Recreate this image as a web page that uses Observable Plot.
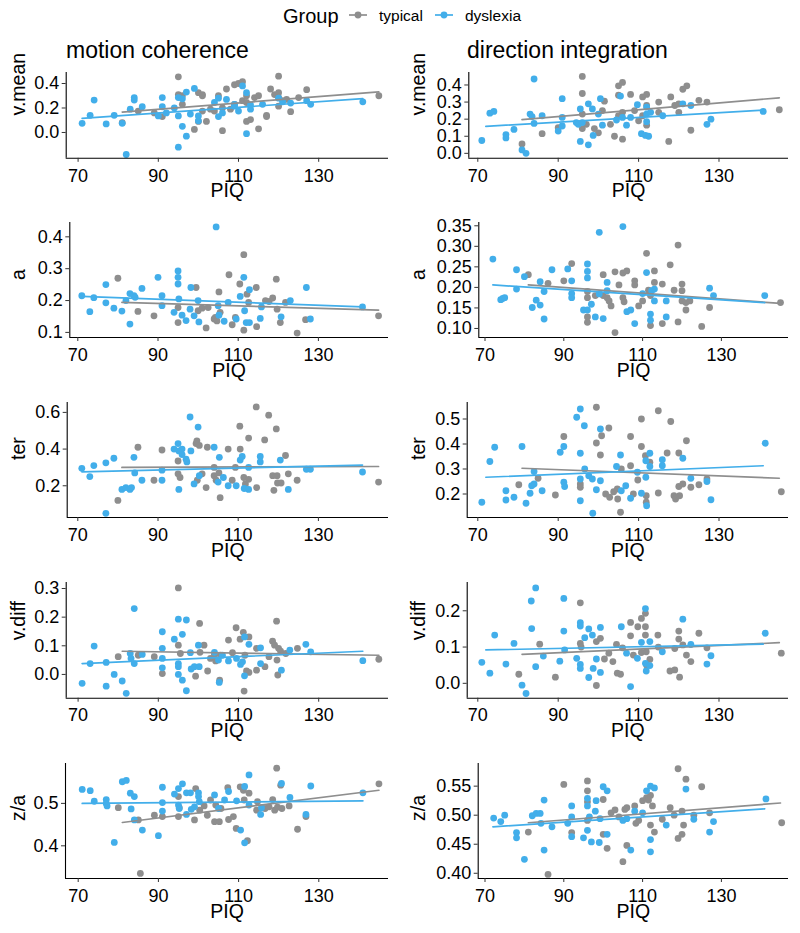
<!DOCTYPE html>
<html><head><meta charset="utf-8">
<script src="https://cdn.jsdelivr.net/npm/d3@7"></script>
<script src="https://cdn.jsdelivr.net/npm/@observablehq/plot@0.6"></script>
<style>
body{margin:0;background:#fff;}
#chart{position:relative;width:800px;height:933px;font-family:"Liberation Sans",Arial,sans-serif;}
#chart svg{position:absolute;}
</style></head><body><div id="chart"></div>
<script>
const groups = ["typical","dyslexia"];
const groupColors = ["#8e8e8e","#42aeea"];
const columnTitles = ["motion coherence","direction integration"];
const xTicks = [70,90,110,130];
const xLabel = "PIQ";
const yLabels = ["v.mean","a","ter","v.diff","z/a"];

// ---- motion coherence: v.mean ----
const mcVmeanTyp = [[81,0.08],[85,0.175],[89,0.16],[91,0.13],[95,0.455],[95,0.31],[96,0.23],[96,0.30],[99,0.025],[100,0.09],[100,0.325],[101,0.31],[101,0.30],[101,0.175],[102,0.09],[103,0.19],[104,0.175],[105,0.30],[106,0.015],[106,0.20],[107,0.355],[108,0.19],[109,0.23],[109,0.39],[110,0.40],[111,0.26],[111,0.415],[112,0.30],[112,0.09],[112,0.245],[113,0.105],[114,0.285],[115,0.30],[115,0.03],[117,0.14],[117,0.13],[118,0.355],[119,0.31],[120,0.46],[120,0.325],[120,0.215],[120,0.285],[121,0.26],[122,0.27],[123,0.17],[125,0.285],[127,0.35],[145,0.30]];
const mcVmeanDys = [[71,0.075],[73,0.14],[74,0.265],[77,0.07],[79,0.14],[81,0.075],[82,-0.18],[83,0.19],[84,0.285],[84,0.265],[86,0.21],[91,0.285],[91,0.21],[90,0.135],[92,0.16],[94,0.20],[95,-0.12],[95,0.135],[95,0.285],[96,0.275],[96,0.05],[97,0.33],[97,-0.03],[98,0.15],[99,0.36],[100,0.135],[100,0.095],[104,0.245],[105,0.28],[105,0.13],[106,0.16],[107,0.27],[109,0.23],[109,0.215],[110,0.175],[111,0.38],[112,-0.01],[112,0.325],[113,0.19],[113,0.225],[116,0.23],[120,0.28],[121,0.25],[123,0.24],[127,0.26],[128,0.23],[141,0.25]];
const mcVmeanFitTyp = [[81,0.167],[145,0.331]];
const mcVmeanFitDys = [[71,0.115],[141,0.277]];
const mcVmeanTicks = [0,0.2,0.4];

// ---- direction integration: v.mean ----
const diVmeanTyp = [[81,0.055],[86,0.115],[90,0.15],[96,0.45],[96,0.35],[96,0.145],[96,0.23],[97,0.17],[99,0.145],[100,0.12],[101,0.25],[101.5,0.305],[103,0.17],[104,0.10],[105,0.395],[105,0.34],[105,0.22],[106,0.415],[106,0.083],[106,0.24],[108,0.345],[109,0.25],[110,0.19],[111,0.33],[111,0.22],[112,0.345],[112,0.165],[112,0.28],[115,0.30],[115,0.24],[117.5,0.07],[118,0.33],[119,0.28],[120,0.24],[120,0.29],[121,0.375],[122,0.395],[123,0.135],[125,0.31],[127,0.30],[145,0.255]];
const diVmeanDys = [[71,0.075],[73,0.235],[74,0.245],[77,0.11],[77,0.09],[79,0.14],[81,0.02],[82,0.0],[83,0.23],[83.5,0.215],[84,0.435],[84,0.175],[86,0.22],[90,0.13],[91,0.32],[91,0.21],[91,0.16],[94.5,0.18],[95,0.17],[95.5,0.26],[95.5,0.07],[96,0.18],[97.5,0.29],[97.5,0.05],[98.5,0.26],[98.7,0.105],[100,0.23],[100.5,0.32],[101,0.165],[104.5,0.195],[105.5,0.335],[106,0.21],[107,0.165],[108,0.21],[109.7,0.285],[110.7,0.115],[111.7,0.105],[112,0.27],[112,0.23],[112,0.185],[112.5,0.10],[113,0.24],[116,0.22],[121,0.29],[123,0.28],[127,0.17],[128,0.2],[141,0.245]];
const diVmeanFitTyp = [[81,0.197],[145,0.325]];
const diVmeanFitDys = [[72,0.158],[141,0.253]];
const diVmeanTicks = [0,0.1,0.2,0.3,0.4];

// ---- motion coherence: a ----
const mcATyp = [[80,0.27],[85,0.166],[89,0.152],[95,0.178],[95,0.131],[99.5,0.241],[100,0.168],[101,0.176],[102,0.114],[102.5,0.178],[104,0.142],[104.3,0.147],[104.7,0.136],[105.2,0.227],[105.5,0.163],[107.7,0.281],[108.5,0.124],[109.3,0.147],[110.4,0.252],[111.4,0.344],[111.4,0.107],[112.2,0.22],[112.6,0.194],[114.5,0.241],[114.6,0.118],[116.8,0.20],[117.7,0.197],[118.6,0.208],[119.5,0.267],[119.7,0.173],[120.5,0.131],[121.8,0.194],[124.7,0.098],[126.8,0.14],[145,0.152]];
const mcADys = [[71,0.215],[73,0.165],[74,0.209],[77,0.25],[77,0.193],[79,0.176],[81,0.167],[82,0.20],[83,0.222],[83,0.126],[84,0.215],[84.3,0.21],[86,0.238],[90,0.273],[91,0.215],[91,0.184],[94,0.163],[95,0.293],[95,0.273],[95,0.252],[95.2,0.205],[96,0.154],[97,0.137],[98,0.173],[98.2,0.241],[99,0.152],[100,0.20],[100.2,0.133],[104.5,0.431],[105,0.184],[105.2,0.154],[106.5,0.135],[107.5,0.194],[109.5,0.142],[110.5,0.213],[111.4,0.273],[111.6,0.168],[112,0.131],[112.8,0.131],[112.8,0.234],[115.5,0.144],[115.8,0.18],[120.7,0.149],[123,0.20],[127,0.241],[128,0.142],[141,0.18]];
const mcAFitTyp = [[81,0.194],[145,0.17]];
const mcAFitDys = [[71,0.213],[141,0.18]];
const mcATicks = [0.1,0.2,0.3,0.4];

// ---- direction integration: a ----
const diATyp = [[81,0.231],[86,0.21],[90,0.216],[92,0.258],[96,0.19],[96,0.175],[96,0.128],[96,0.115],[98,0.18],[100,0.231],[100,0.18],[101,0.175],[101.5,0.167],[102,0.155],[103,0.238],[103,0.09],[104,0.206],[105,0.235],[106,0.24],[105,0.175],[105.3,0.165],[108,0.216],[108,0.206],[109,0.155],[110,0.167],[111,0.283],[111.5,0.193],[112,0.107],[112,0.18],[113,0.24],[113,0.212],[115,0.208],[115,0.112],[117,0.255],[118,0.193],[119,0.303],[119,0.116],[120,0.192],[120,0.208],[120,0.167],[121,0.145],[121,0.163],[122,0.167],[125,0.105],[127,0.151],[145,0.163]];
const diADys = [[72,0.269],[74,0.17],[74.5,0.173],[75,0.175],[78,0.243],[78,0.196],[80,0.226],[82,0.151],[83,0.169],[84,0.214],[84,0.157],[85,0.123],[85,0.19],[87,0.243],[91,0.245],[92,0.216],[92,0.185],[92,0.175],[95,0.145],[96,0.257],[96,0.239],[96,0.223],[96,0.145],[97,0.159],[98,0.128],[99,0.334],[99,0.184],[100,0.124],[101,0.212],[101,0.192],[105,0.348],[106,0.141],[107,0.145],[108,0.112],[110,0.185],[111,0.236],[112,0.135],[112,0.12],[112.3,0.192],[113,0.196],[113,0.167],[116,0.167],[116,0.128],[127,0.198],[128,0.18],[141,0.18]];
const diAFitTyp = [[81,0.206],[145,0.161]];
const diAFitDys = [[72,0.206],[141,0.163]];
const diATicks = [0.10,0.15,0.20,0.25,0.30,0.35];

// ---- motion coherence: ter ----
const mcTerTyp = [[80,0.12],[85,0.41],[89,0.23],[91,0.395],[95,0.335],[95,0.265],[95.5,0.245],[99.5,0.43],[99.7,0.445],[99.8,0.23],[100.3,0.42],[101,0.265],[102,0.19],[102.3,0.41],[104,0.30],[104,0.255],[104.5,0.23],[105.2,0.27],[105.5,0.135],[107.5,0.40],[108.5,0.23],[109.3,0.30],[110.4,0.525],[110.5,0.40],[111.4,0.245],[111.8,0.21],[112.6,0.46],[112.6,0.235],[114.5,0.63],[114.6,0.19],[116.6,0.45],[117.6,0.585],[118.6,0.255],[118.9,0.175],[119.5,0.51],[119.7,0.255],[119.8,0.215],[120.7,0.215],[121.8,0.365],[122.5,0.265],[124.7,0.23],[145,0.22]];
const mcTerDys = [[71,0.295],[73,0.25],[74,0.31],[77,0.325],[77,0.05],[79,0.35],[81,0.18],[82,0.19],[83,0.18],[83.4,0.19],[84,0.355],[84.2,0.27],[86,0.23],[91,0.285],[91,0.23],[94,0.40],[95,0.43],[95.2,0.39],[95.2,0.18],[96,0.40],[96,0.37],[97,0.345],[97.2,0.33],[98,0.575],[98.2,0.39],[99,0.21],[100,0.52],[100.3,0.255],[104,0.41],[105,0.22],[105.3,0.355],[106.3,0.245],[107.5,0.2],[109.5,0.2],[110.5,0.34],[111,0.36],[111.5,0.185],[112.6,0.18],[112.6,0.30],[115.5,0.36],[115.5,0.33],[120.5,0.34],[122.5,0.18],[127,0.29],[128,0.29],[141,0.275]];
const mcTerFitTyp = [[81,0.30],[145,0.305]];
const mcTerFitDys = [[71,0.276],[141,0.313]];
const mcTerTicks = [0.2,0.4,0.6];

// ---- direction integration: ter ----
const diTerTyp = [[80.2,0.237],[85,0.263],[89.3,0.196],[91.4,0.43],[95.5,0.24],[95.5,0.227],[99.5,0.547],[99.5,0.404],[100.5,0.356],[100.8,0.433],[101.8,0.20],[102.6,0.464],[102.8,0.187],[103.8,0.209],[104.7,0.22],[104.8,0.18],[105.5,0.127],[105.7,0.30],[108,0.313],[108,0.43],[108.7,0.20],[109.8,0.256],[110.7,0.50],[110.7,0.39],[111.7,0.353],[111.9,0.193],[111.9,0.167],[112.8,0.327],[114.9,0.533],[114.9,0.204],[117.1,0.364],[118,0.49],[118.8,0.193],[119.2,0.18],[120,0.364],[120,0.23],[120.2,0.193],[121,0.24],[121.9,0.413],[123,0.227],[125,0.237],[127,0.26],[145.5,0.209]];
const diTerDys = [[71,0.167],[73,0.33],[74.2,0.387],[77,0.213],[77,0.176],[79,0.187],[81,0.39],[82,0.163],[83,0.203],[83.4,0.233],[84,0.24],[84,0.29],[86,0.213],[90.5,0.367],[91.4,0.39],[91.4,0.247],[91.6,0.23],[94.6,0.507],[95.5,0.54],[95.5,0.363],[95.5,0.26],[95.5,0.173],[96.5,0.473],[96.6,0.30],[97.6,0.273],[98.5,0.26],[98.6,0.123],[99.5,0.217],[100.5,0.46],[100.5,0.253],[104.5,0.31],[105.5,0.356],[105.7,0.213],[106.8,0.233],[108,0.183],[109.7,0.287],[110.7,0.203],[111.8,0.267],[111.8,0.333],[112,0.153],[112.8,0.363],[112.8,0.31],[115.9,0.337],[115.9,0.313],[121,0.343],[123,0.263],[127,0.25],[128,0.177],[141.5,0.403]];
const diTerFitTyp = [[81,0.303],[145,0.263]];
const diTerFitDys = [[72,0.267],[141,0.313]];
const diTerTicks = [0.2,0.3,0.4,0.5];

// ---- motion coherence: v.diff ----
const mcVdiffTyp = [[80,0.062],[85,0.067],[89,0.062],[91,0.003],[95,0.302],[95,0.102],[95.5,0.073],[99.3,-0.006],[100.3,0.178],[100.4,0.077],[101.4,0.102],[102.3,0.012],[103,0.056],[104,0.07],[104.3,0.047],[105.3,-0.02],[105.5,0.067],[107.5,0.12],[108.5,0.076],[109.4,0.163],[110.4,0.123],[111.2,0.147],[111.4,-0.058],[111.6,0.067],[112,0.012],[112.6,0.007],[112.6,0.131],[114.5,0.015],[114.5,0.091],[116.6,0.027],[117.6,0.062],[118.5,0.116],[119,0.102],[119.5,0.186],[119.6,0.05],[119.8,-0.002],[120,0.091],[120.5,0.081],[121.8,0.073],[124.7,0.091],[145,0.053]];
const mcVdiffDys = [[71,-0.031],[73,0.038],[74,0.099],[77,0.042],[77,-0.041],[79,0.0],[81,-0.023],[82,-0.066],[83,0.073],[83.2,0.056],[84,0.23],[84,0.038],[86,0.07],[91,0.149],[91,0.091],[91,0.056],[91,0.023],[94,0.123],[95,0.193],[95,0.038],[95,0.027],[95,0.0],[96,-0.02],[96,0.14],[97,0.19],[97,-0.057],[98,0.076],[98.2,0.019],[99,0.027],[100,0.102],[100.2,0.027],[104,0.077],[105,0.05],[105.2,-0.028],[106,0.067],[107.5,0.047],[109.5,0.056],[110.5,0.035],[111,0.044],[111.5,0.131],[111.5,-0.005],[112.6,0.105],[115.5,0.093],[115.5,0.038],[120.7,0.015],[122.8,0.085],[126.8,0.105],[128,0.079],[141,0.048]];
const mcVdiffFitTyp = [[81,0.081],[145,0.067]];
const mcVdiffFitDys = [[71,0.038],[141,0.081]];
const mcVdiffTicks = [0,0.1,0.2,0.3];

// ---- direction integration: v.diff ----
const diVdiffTyp = [[80.2,0.025],[85.4,0.108],[89.3,0.017],[95.5,0.222],[95.5,0.11],[95.7,0.1],[99.5,-0.006],[99.5,0.115],[100.5,0.124],[101.5,0.067],[102.6,0.083],[103.6,0.06],[104.5,0.107],[104.7,0.028],[105.5,0.025],[106,0.098],[108,0.168],[108,0.131],[108.7,0.078],[109.8,0.156],[110.7,0.179],[110.7,0.085],[111.7,0.193],[111.7,0.156],[111.7,0.133],[111.9,0.087],[112,0.05],[112.8,0.066],[114.8,0.133],[114.9,0.1],[117.8,0.034],[119,0.037],[119,0.096],[120,0.144],[120,0.122],[120.2,0.017],[121,0.106],[121.9,0.078],[123,0.06],[125,0.138],[127,0.098],[145.5,0.083]];
const diVdiffDys = [[71,0.058],[73,0.028],[74.2,0.133],[77,0.053],[79,0.11],[81,-0.005],[82,-0.028],[83.3,0.227],[83.4,0.151],[84.4,0.263],[84.4,0.046],[86.3,0.075],[90.4,0.061],[91.4,0.234],[91.4,0.144],[91.6,0.092],[94.6,0.069],[95.5,0.167],[95.5,0.158],[95.5,0.052],[95.5,0.041],[96.6,0.126],[97.6,0.15],[97.6,0.016],[98.5,0.133],[98.7,0.041],[99.5,0.067],[100.5,0.154],[100.5,0.03],[105.7,0.156],[107,0.083],[108,-0.009],[109.7,0.069],[110.7,0.113],[111.7,0.206],[111.7,0.055],[111.9,0.034],[112.8,0.115],[112.8,0.049],[115.9,0.087],[121,0.177],[123,0.107],[127,0.053],[128,0.076],[141.5,0.138]];
const diVdiffFitTyp = [[81,0.08],[145,0.112]];
const diVdiffFitDys = [[72,0.092],[141,0.108]];
const diVdiffTicks = [0,0.1,0.2];

// ---- motion coherence: z/a ----
const mcZaTyp = [[80,0.49],[85,0.461],[89,0.472],[91,0.469],[95,0.516],[95,0.469],[95.2,0.49],[99,0.461],[99.3,0.535],[100.3,0.484],[101.4,0.494],[102.2,0.472],[103,0.508],[104,0.457],[104.3,0.496],[105.2,0.457],[105.6,0.488],[107.3,0.537],[107.5,0.462],[108.7,0.469],[109.4,0.441],[110.4,0.539],[111.2,0.531],[111.4,0.508],[112.2,0.412],[112.6,0.524],[114.5,0.484],[114.7,0.504],[116.6,0.488],[117.6,0.492],[118.5,0.509],[119,0.484],[119.5,0.583],[119.7,0.491],[120.5,0.543],[120.8,0.488],[122.6,0.494],[124.7,0.439],[126.8,0.469],[85.5,0.335],[145,0.546]];
const mcZaDys = [[71,0.533],[73,0.53],[74,0.505],[77,0.509],[77,0.50],[77.2,0.494],[79,0.408],[81,0.551],[82,0.554],[83,0.524],[83.2,0.487],[84,0.516],[84,0.461],[86,0.437],[90,0.424],[91,0.538],[91,0.502],[91,0.482],[94,0.522],[95,0.535],[95,0.496],[95.2,0.488],[96,0.546],[97,0.525],[97,0.474],[98,0.525],[98.2,0.486],[99,0.492],[100,0.525],[100,0.516],[100.2,0.504],[104,0.52],[105,0.488],[106.5,0.508],[107.5,0.528],[109.5,0.506],[110.5,0.437],[111.5,0.407],[111.5,0.54],[112.6,0.567],[112.6,0.496],[115.5,0.474],[115.7,0.49],[120.7,0.547],[122.8,0.514],[126.8,0.474],[128,0.541],[141,0.525]];
const mcZaFitTyp = [[81,0.455],[145,0.531]];
const mcZaFitDys = [[71,0.50],[141,0.506]];
const mcZaTicks = [0.4,0.5];

// ---- direction integration: z/a ----
const diZaTyp = [[81,0.471],[86,0.398],[90,0.553],[92,0.47],[96,0.559],[96,0.542],[96,0.523],[96,0.491],[100,0.527],[100,0.467],[101,0.443],[102,0.504],[103,0.509],[104,0.497],[105,0.42],[105.5,0.51],[106,0.448],[106,0.513],[108,0.516],[108.3,0.486],[109,0.491],[110,0.525],[111,0.53],[111.5,0.526],[112,0.483],[112,0.534],[112.5,0.516],[113,0.471],[115,0.493],[117,0.513],[118,0.50],[119,0.58],[119,0.46],[120,0.507],[120,0.467],[120.4,0.483],[121,0.562],[123,0.50],[125,0.549],[127,0.504],[145.3,0.487]];
const diZaDys = [[72.2,0.495],[74,0.489],[75,0.50],[78,0.47],[78,0.461],[80,0.424],[82,0.499],[83,0.503],[84,0.503],[84.2,0.486],[85,0.526],[85,0.44],[87,0.48],[91,0.486],[92,0.516],[92,0.497],[92,0.463],[95,0.461],[96,0.529],[96,0.516],[96,0.474],[96.5,0.497],[97,0.454],[98,0.507],[98.2,0.525],[99,0.453],[99.2,0.494],[100,0.549],[101,0.542],[101,0.467],[105,0.491],[106,0.494],[107,0.44],[108,0.507],[110,0.504],[111,0.542],[112,0.55],[112,0.458],[112,0.437],[113,0.547],[116,0.483],[121,0.545],[123,0.493],[127,0.471],[128,0.489],[141.3,0.528]];
const diZaFitTyp = [[81,0.487],[145,0.521]];
const diZaFitDys = [[72,0.48],[141,0.511]];
const diZaTicks = [0.40,0.45,0.50,0.55];

const panels = [
  {row:0,col:0,typ:mcVmeanTyp,dys:mcVmeanDys,fitTyp:mcVmeanFitTyp,fitDys:mcVmeanFitDys,ticks:mcVmeanTicks,yDomain:[-0.211,0.49],digits:1},
  {row:0,col:1,typ:diVmeanTyp,dys:diVmeanDys,fitTyp:diVmeanFitTyp,fitDys:diVmeanFitDys,ticks:diVmeanTicks,yDomain:[-0.029,0.473],digits:1},
  {row:1,col:0,typ:mcATyp,dys:mcADys,fitTyp:mcAFitTyp,fitDys:mcAFitDys,ticks:mcATicks,yDomain:[0.084,0.445],digits:1},
  {row:1,col:1,typ:diATyp,dys:diADys,fitTyp:diAFitTyp,fitDys:diAFitDys,ticks:diATicks,yDomain:[0.078,0.358],digits:2},
  {row:2,col:0,typ:mcTerTyp,dys:mcTerDys,fitTyp:mcTerFitTyp,fitDys:mcTerFitDys,ticks:mcTerTicks,yDomain:[0.027,0.654],digits:1},
  {row:2,col:1,typ:diTerTyp,dys:diTerDys,fitTyp:diTerFitTyp,fitDys:diTerFitDys,ticks:diTerTicks,yDomain:[0.106,0.566],digits:1},
  {row:3,col:0,typ:mcVdiffTyp,dys:mcVdiffDys,fitTyp:mcVdiffFitTyp,fitDys:mcVdiffFitDys,ticks:mcVdiffTicks,yDomain:[-0.083,0.321],digits:1},
  {row:3,col:1,typ:diVdiffTyp,dys:diVdiffDys,fitTyp:diVdiffFitTyp,fitDys:diVdiffFitDys,ticks:diVdiffTicks,yDomain:[-0.041,0.278],digits:1},
  {row:4,col:0,typ:mcZaTyp,dys:mcZaDys,fitTyp:mcZaFitTyp,fitDys:mcZaFitDys,ticks:mcZaTicks,yDomain:[0.323,0.594],digits:1},
  {row:4,col:1,typ:diZaTyp,dys:diZaDys,fitTyp:diZaFitTyp,fitDys:diZaFitDys,ticks:diZaTicks,yDomain:[0.391,0.589],digits:2}
];

// ---- layout (pixels) ----
const rowTop = [71.7,221.7,401.7,582.3,763.3];
const rowBottom = [157.5,336.7,516.7,698,878.3];
const plotLeft = [[65.7,69.3,66.7,65.7,65],[468.3,478.3,466.7,466.7,477.7]];
const plotRight = [388,788];
const x70px = [[77.6,77.3,77.3,77.6,77.7],[477.3,484.5,477.3,477.3,484.5]];
const pxPerUnit = [[4.01,4.01,4.01,4.01,4.01],[4.02,3.94,4.02,4.02,3.94]];

const chart = document.getElementById("chart");
const FONT = "'Liberation Sans', Arial, Helvetica, sans-serif";

for (const p of panels) {
  const colX = p.col * 400;
  const L = plotLeft[p.col][p.row], R = plotRight[p.col];
  const top = rowTop[p.row], bottom = rowBottom[p.row];
  const mt = 12, mb = 54;
  const x0 = x70px[p.col][p.row], s = pxPerUnit[p.col][p.row];
  const xDomain = [70 - (x0 - L) / s, 70 + (R - x0) / s];
  const toRows = (arr, g) => arr.map(([x, y]) => ({x, y, g}));
  const pts = [...toRows(p.typ, "typical"), ...toRows(p.dys, "dyslexia")];
  const fits = [...toRows(p.fitTyp, "typical"), ...toRows(p.fitDys, "dyslexia")];
  const fmt = d3.format(`.${p.digits}f`);
  const svg = Plot.plot({
    width: 400,
    height: bottom - top + mt + mb,
    marginLeft: L - colX,
    marginRight: colX + 400 - R,
    marginTop: mt,
    marginBottom: mb,
    x: {domain: xDomain},
    y: {domain: p.yDomain},
    color: {domain: groups, range: groupColors},
    style: {fontFamily: FONT, fontSize: "18px", color: "black", background: "transparent", overflow: "visible"},
    marks: [
      Plot.dot(pts, {x: "x", y: "y", r: 3.4, fill: "g", stroke: null}),
      Plot.line(fits, {x: "x", y: "y", z: "g", stroke: "g", strokeWidth: 1.7}),
      Plot.ruleX([xDomain[0]], {stroke: "black", strokeWidth: 1.1}),
      Plot.ruleY([p.yDomain[0]], {stroke: "black", strokeWidth: 1.1}),
      Plot.axisX({ticks: xTicks, tickSize: 4, tickPadding: 6.5, label: null, fontSize: 18, stroke: "#333"}),
      Plot.axisY({ticks: p.ticks, tickFormat: fmt, tickSize: 4, tickPadding: 3, label: null, fontSize: 18, stroke: "#333"}),
      Plot.text([xLabel], {text: d => d, frameAnchor: "bottom", dy: 39, fontSize: 19.5, fill: "black"}),
      Plot.text([yLabels[p.row]], {text: d => d, frameAnchor: "left", rotate: -90, dx: colX + 18 - L, fontSize: 19.5, fill: "black"})
    ]
  });
  svg.style.left = colX + "px";
  svg.style.top = (top - mt) + "px";
  chart.appendChild(svg);
}

// ---- legend and column titles ----
const over = d3.select(chart).append("svg")
  .attr("width", 800).attr("height", 70)
  .style("left", "0px").style("top", "0px")
  .style("font-family", FONT);
over.append("text").attr("x", 283).attr("y", 22.5).attr("font-size", 20).attr("fill", "black").text("Group");
const legendItems = [{cx: 358, tx: 379}, {cx: 444, tx: 465}];
groups.forEach((g, i) => {
  const it = legendItems[i];
  over.append("line").attr("x1", it.cx - 9).attr("x2", it.cx + 9).attr("y1", 15).attr("y2", 15)
    .attr("stroke", groupColors[i]).attr("stroke-width", 1.7);
  over.append("circle").attr("cx", it.cx).attr("cy", 15).attr("r", 3.4).attr("fill", groupColors[i]);
  over.append("text").attr("x", it.tx).attr("y", 20.5).attr("font-size", 15.5).attr("fill", "black").text(g);
});
const titleX = [66, 467];
columnTitles.forEach((t, i) => {
  over.append("text").attr("x", titleX[i]).attr("y", 57.5).attr("font-size", 23).attr("fill", "black").text(t);
});
</script>
</body></html>
